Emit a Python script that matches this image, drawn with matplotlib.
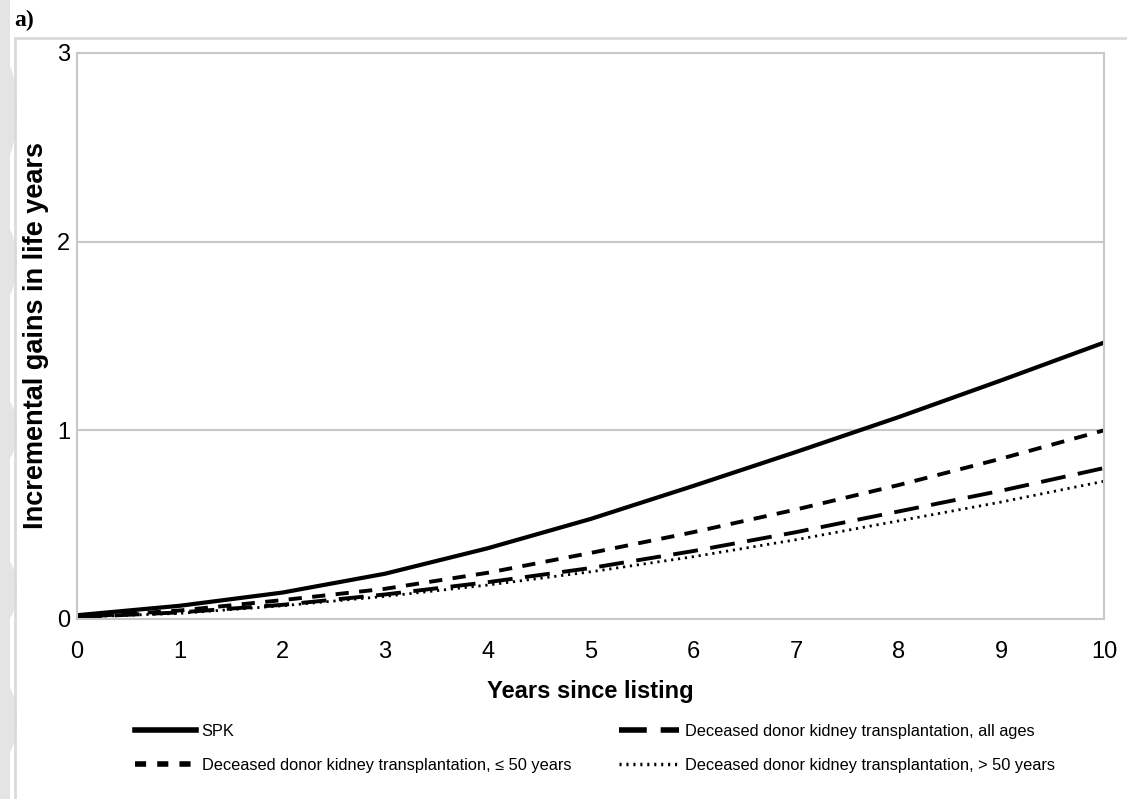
import matplotlib
matplotlib.use('Agg')
import matplotlib.pyplot as plt
from matplotlib.lines import Line2D
from matplotlib.patches import Ellipse, Rectangle

plt.rcParams['font.family'] = ['Liberation Sans', 'DejaVu Sans']
plt.rcParams['lines.scale_dashes'] = False

years = [0, 1, 2, 3, 4, 5, 6, 7, 8, 9, 10]
spk = [0.02, 0.07, 0.14, 0.24, 0.375, 0.53, 0.705, 0.885, 1.07, 1.265, 1.465]
ddkt_le50 = [0.01, 0.045, 0.10, 0.16, 0.245, 0.35, 0.46, 0.58, 0.71, 0.85, 1.0]
ddkt_all = [0.01, 0.035, 0.075, 0.13, 0.195, 0.27, 0.36, 0.46, 0.57, 0.68, 0.80]
ddkt_gt50 = [0.01, 0.03, 0.07, 0.12, 0.18, 0.25, 0.33, 0.42, 0.52, 0.62, 0.73]

labels = ['SPK',
          'Deceased donor kidney transplantation, \u2264 50 years',
          'Deceased donor kidney transplantation, all ages',
          'Deceased donor kidney transplantation, > 50 years']

grey = '#C8C8C8'
W, H = 1127, 799

fig = plt.figure(figsize=(11.27, 7.99), dpi=100)

# faint watermark strip on the left page edge
fig.add_artist(Rectangle((0, 0), 10 / W, 1, transform=fig.transFigure,
                         color='#E4E4E4', lw=0, zorder=0))
for yc, hh in [(110, 110), (262, 80), (430, 70), (590, 70), (720, 80)]:
    fig.add_artist(Ellipse((0, 1 - yc / H), 34 / W, hh / H, transform=fig.transFigure,
                           color='#E4E4E4', lw=0, zorder=0))

ax = fig.add_axes([0.0683, 0.2253, 0.9113, 0.7084])

ax.plot(years, spk, color='black', lw=3.0, solid_capstyle='butt')
ax.plot(years, ddkt_le50, color='black', lw=2.8, dashes=(9.5, 7.5))
ax.plot(years, ddkt_all, color='black', lw=2.8, dashes=(18, 9))
ax.plot(years, ddkt_gt50, color='black', lw=2.0, dashes=(1.6, 3.4))

ax.set_xlim(0, 10)
ax.set_ylim(0, 3)
ax.set_xticks(range(0, 11))
ax.set_yticks([0, 1, 2, 3])
ax.tick_params(length=0, labelsize=17)
ax.tick_params(axis='x', pad=16)
ax.tick_params(axis='y', pad=5)
ax.yaxis.grid(True, color=grey, lw=1.5)
ax.set_axisbelow(True)
for s in ax.spines.values():
    s.set_color(grey)
    s.set_linewidth(1.5)

ax.set_xlabel('Years since listing', fontsize=17, fontweight='bold', labelpad=12)
ax.set_ylabel('Incremental gains in life years', fontsize=19.5, fontweight='bold', labelpad=6)

handles = [Line2D([], [], color='black', lw=4),
           Line2D([], [], color='black', lw=4, dashes=(8, 8)),
           Line2D([], [], color='black', lw=4, dashes=(20, 10)),
           Line2D([], [], color='black', lw=2.5, dashes=(1.5, 3.5))]
fig.legend(handles, labels, ncol=2, loc='upper left', bbox_to_anchor=(0.12, 0.094),
           frameon=False, fontsize=11.8, handlelength=3.7, handletextpad=0.35,
           columnspacing=2.9, labelspacing=1.15, borderaxespad=0, borderpad=0)

# page decoration: panel letter and rules
fig.text(0.013, 0.974, 'a)', fontsize=17, fontweight='bold', family='Liberation Serif',
         va='center', ha='left')
fig.add_artist(Line2D([0.0133, 1.0], [0.952, 0.952], color='#DADADA', lw=2))
fig.add_artist(Line2D([0.0133, 0.0133], [0.0, 0.952], color='#DADADA', lw=2))

fig.savefig('out.png', dpi=100)
